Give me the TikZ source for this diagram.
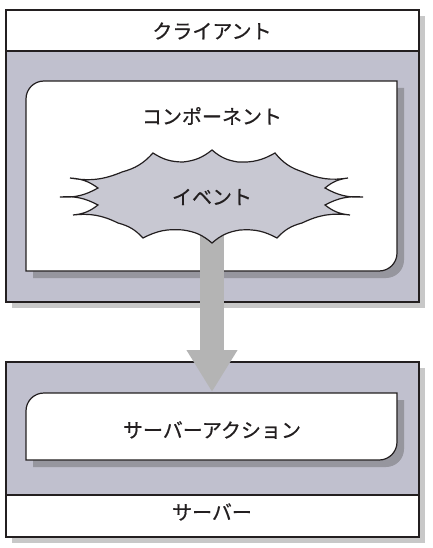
\documentclass[tikz,border=0pt]{standalone}
\usepackage{fontspec}
\setmainfont[FakeBold=0.6]{Noto Sans CJK JP}
\usetikzlibrary{arrows.meta,positioning}

\definecolor{bodyfill}{RGB}{192,192,206}
\definecolor{burstfill}{RGB}{200,200,210}
\definecolor{outershadow}{RGB}{200,200,200}
\definecolor{innershadow}{RGB}{150,150,158}
\definecolor{arrowgray}{RGB}{180,180,180}
\definecolor{linecol}{RGB}{35,31,32}

% box with rounded top-left and bottom-right corners: options, x1, y1, x2, y2
\newcommand{\softbox}[5]{%
  \path[#1] (#2,#5) -- (#2,#3+18) .. controls (#2,#3+8) and (#2+8,#3) .. (#2+18,#3)
    -- (#4,#3) -- (#4,#5-18) .. controls (#4,#5-8) and (#4-8,#5) .. (#4-18,#5) -- cycle;}

\begin{document}
\begin{tikzpicture}[
    x=1pt, y=-1pt,
    frame/.style={draw=linecol, line width=1.2pt},
    lbl/.style={font=\fontsize{20}{24}\selectfont, inner sep=0pt, text=linecol},
    bigarr/.style={draw=arrowgray, line width=24pt, -{Triangle[width=48pt,length=42pt]}},
    spike/.style={bend right=16}
]
\useasboundingbox (0,0) rectangle (432,548);

% client
\fill[outershadow] (12,16) rectangle (425,308);
\fill[bodyfill] (6,51) rectangle (419,302);
\fill[white] (6,10) rectangle (419,51);
\draw[frame] (6,10) rectangle (419,302);
\draw[frame] (6,51) -- (419,51);
\node[lbl] (client) at (212,31) {クライアント};

\softbox{fill=innershadow}{33}{88}{404}{278}
\softbox{fill=white, frame}{26}{81}{397}{271}
\node[lbl] (compo) at (212,116) {コンポーネント};

% server
\fill[outershadow] (12,368) rectangle (425,543);
\fill[bodyfill] (6,362) rectangle (419,495);
\fill[white] (6,495) rectangle (419,537);
\draw[frame] (6,362) rectangle (419,537);
\draw[frame] (6,495) -- (419,495);
\node[lbl] (server) at (212,512) {サーバー};

\softbox{fill=innershadow}{33}{400}{404}{467}
\softbox{fill=white, frame}{26}{393}{397}{460}
\node[lbl] (action) at (212,430) {サーバーアクション};

% event -> action
\coordinate (burstfoot) at (212,236);
\coordinate (acttop) at (212,392);
\draw[bigarr] (burstfoot) -- (acttop);

\filldraw[fill=burstfill, frame]
  (212,150) to[spike] (238,162) to[spike] (275,153) to[spike] (303,172)
  to[spike] (348,178) to[spike] (325,188) to[spike] (363,197)
  to[spike] (325,205) to[spike] (350,215) to[spike] (302,223)
  to[spike] (277,238) to[spike] (240,230) to[spike] (212,243)
  to[spike] (183,230) to[spike] (143,238) to[spike] (118,223)
  to[spike] (73,215) to[spike] (98,205) to[spike] (60,197)
  to[spike] (98,188) to[spike] (70,178) to[spike] (122,172)
  to[spike] (153,153) to[spike] (183,162) to[spike] cycle;
\node[lbl] (event) at (212,197) {イベント};
\end{tikzpicture}
\end{document}
